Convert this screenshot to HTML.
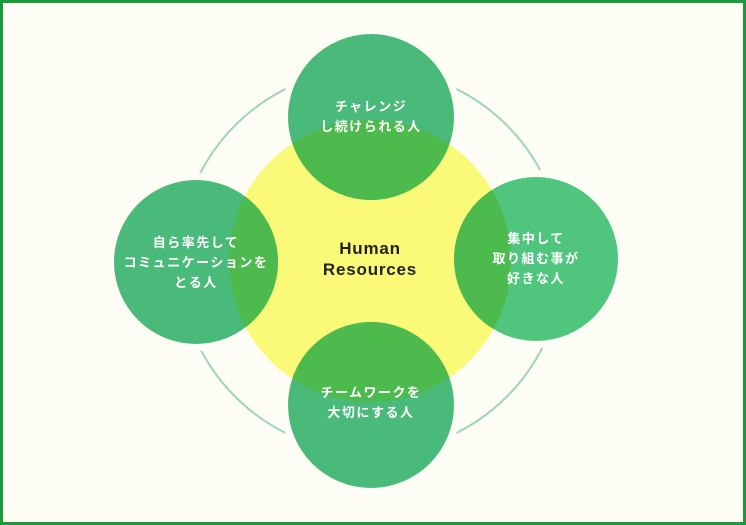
<!DOCTYPE html>
<html><head><meta charset="utf-8"><style>
html,body{margin:0;padding:0;}
body{width:746px;height:525px;overflow:hidden;background:#fdfdf6;}
svg{display:block}
text{font-family:"Liberation Sans","Noto Sans CJK JP",sans-serif;}
</style></head><body>
<svg width="746" height="525" viewBox="0 0 746 525">
<defs>
<clipPath id="y"><circle cx="370" cy="261" r="141"/></clipPath>
</defs>
<rect x="1.5" y="1.5" width="743" height="522" fill="#fdfdf6" stroke="#1a9a3a" stroke-width="3"/>
<circle cx="371" cy="261" r="192" fill="none" stroke="#9ed6b3" stroke-width="2"/>
<g fill="#fdfdf6">
<circle cx="371" cy="117" r="90"/>
<circle cx="196" cy="262" r="89"/>
<circle cx="536" cy="259" r="89"/>
<circle cx="371" cy="405" r="90"/>
</g>
<circle cx="370" cy="261" r="141" fill="#fafa78"/>
<g>
<circle cx="371" cy="117" r="83" fill="#4aba7a"/>
<circle cx="196" cy="262" r="82" fill="#4aba7a"/>
<circle cx="536" cy="259" r="82" fill="#50c57e"/>
<circle cx="371" cy="405" r="83" fill="#4aba7a"/>
</g>
<g clip-path="url(#y)" fill="#4cba4c">
<circle cx="371" cy="117" r="83"/>
<circle cx="196" cy="262" r="82"/>
<circle cx="536" cy="259" r="82"/>
<circle cx="371" cy="405" r="83"/>
</g>
<g fill="#fff" font-size="13" font-weight="bold" text-anchor="middle" letter-spacing="1.5">
<text x="371" y="111">チャレンジ</text>
<text x="371" y="131">し続けられる人</text>
<text x="196" y="247">自ら率先して</text>
<text x="196" y="267">コミュニケーションを</text>
<text x="196" y="287">とる人</text>
<text x="536" y="243">集中して</text>
<text x="536" y="263">取り組む事が</text>
<text x="536" y="283">好きな人</text>
<text x="371" y="397">チームワークを</text>
<text x="371" y="417">大切にする人</text>
</g>
<g fill="#222" font-size="17" font-weight="bold" text-anchor="middle" letter-spacing="0.8">
<text x="370" y="254">Human</text>
<text x="370" y="275">Resources</text>
</g>
</svg>
</body></html>
